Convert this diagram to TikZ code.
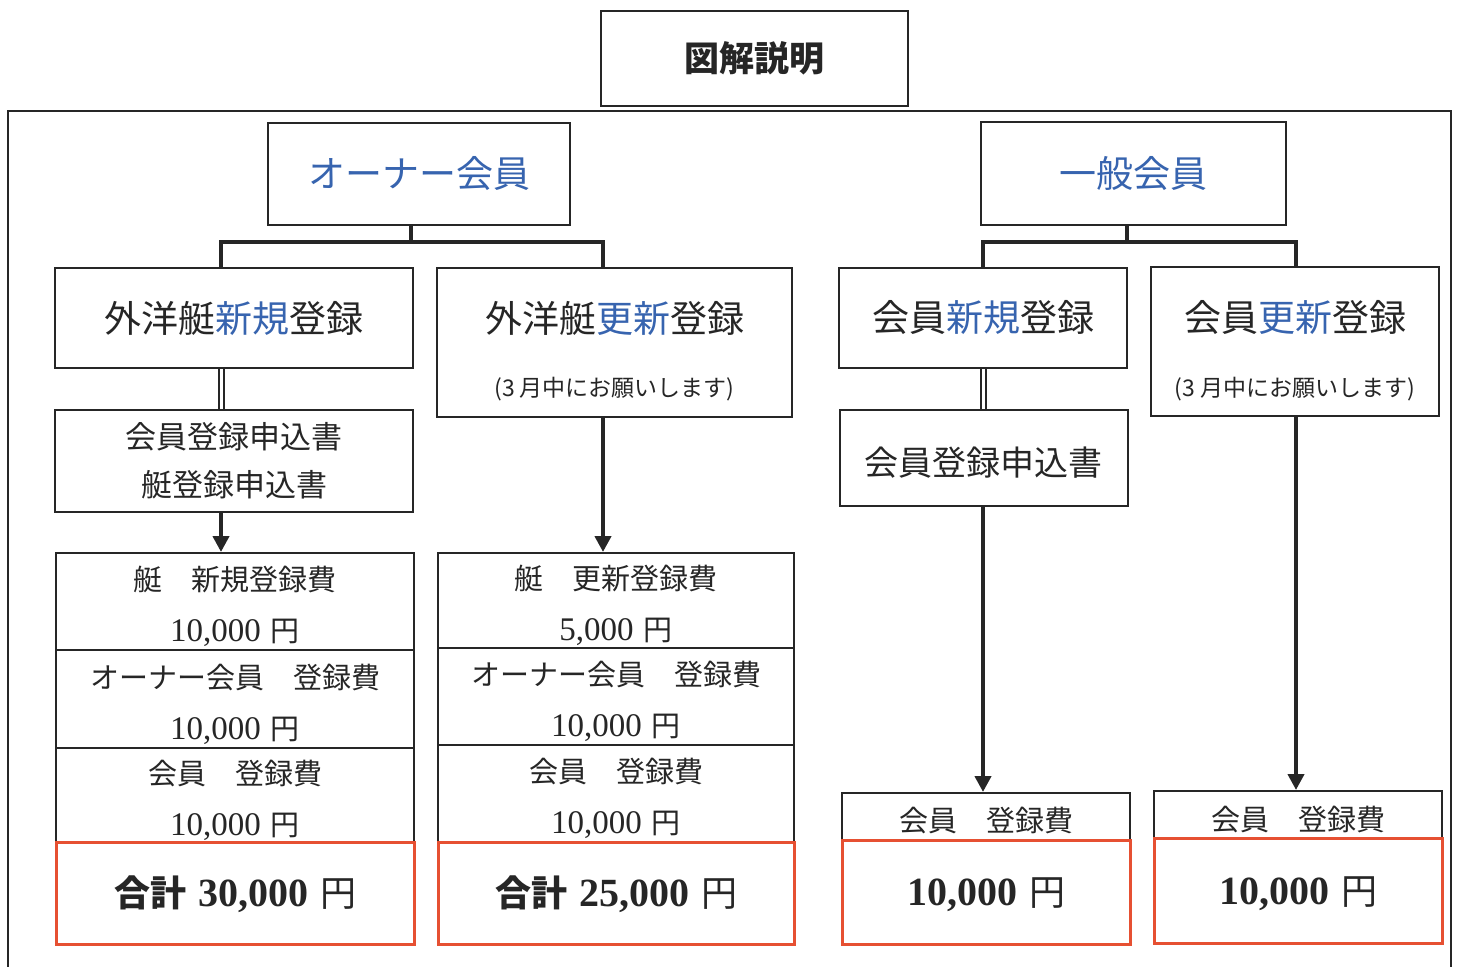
\documentclass[tikz,border=0pt]{standalone}
\usepackage{fontspec}
\setmainfont{Liberation Serif}
\newfontfamily\jp{Noto Sans CJK JP}
\usetikzlibrary{arrows.meta}
\definecolor{jblue}{RGB}{55,100,175}
\definecolor{ink}{RGB}{38,38,38}
\definecolor{tot}{RGB}{230,80,50}
\newcommand\nm[1]{{\rmfamily\fontsize{33}{51}\selectfont #1}}
\newcommand\bn[1]{{\rmfamily\bfseries\fontsize{40}{44}\selectfont #1}}
\newcommand\up{\rule{0pt}{35pt}}
\begin{document}
\begin{tikzpicture}[x=1pt,y=-1pt,
  box/.style={draw=ink,line width=2pt,inner sep=0pt,text=ink,align=center},
  big/.style={font=\jp\fontsize{37}{42}\selectfont},
  sub/.style={inner sep=0pt,text=ink,font=\jp\fontsize{23}{26}\selectfont},
  lbl/.style={inner sep=0pt,text=ink},
  fee/.style={box,font=\jp\fontsize{29}{51}\selectfont},
  total/.style={draw=tot,line width=3pt,inner sep=0pt,text=ink,font=\jp\fontsize{36}{40}\selectfont},
  conn/.style={draw=ink,line width=4.5pt},
  dbl/.style={draw=ink,line width=2pt,double=white,double distance=3pt},
  arr/.style={draw=ink,line width=4pt,-{Triangle[width=16pt,length=16pt]}},
  frame/.style={draw=ink,line width=2pt}]
\useasboundingbox[fill=white] (0,0) rectangle (1460,967);

% outer frame
\draw[frame] (8,967) -- (8,111) -- (1451,111) -- (1451,967);

% title
\node[box,minimum width=307pt,minimum height=95pt,font=\jp\bfseries\fontsize{35}{40}\selectfont] (title) at (754.5,58.5) {図解説明};

% top categories
\node[box,big,text=jblue,minimum width=302pt,minimum height=102pt] (owner) at (419,174) {オーナー会員};
\node[box,big,text=jblue,minimum width=305pt,minimum height=103pt] (general) at (1133.5,173.5) {一般会員};

% second row
\node[box,big,minimum width=358pt,minimum height=100pt] (A) at (234,318) {外洋艇\textcolor{jblue}{新規}登録};
\node[box,minimum width=355pt,minimum height=149pt] (B) at (614.5,342.5) {};
\node[lbl,big] (Bt) at (614.5,318) {外洋艇\textcolor{jblue}{更新}登録};
\node[sub] (Bs) at (614.5,389) {(3 月中にお願いします)};
\node[box,big,minimum width=288pt,minimum height=100pt] (C) at (983,318) {会員\textcolor{jblue}{新規}登録};
\node[box,minimum width=288pt,minimum height=149pt] (D) at (1295,341.5) {};
\node[lbl,big] (Dt) at (1295,318) {会員\textcolor{jblue}{更新}登録};
\node[sub] (Ds) at (1295,389) {(3 月中にお願いします)};

% application forms
\node[box,font=\jp\fontsize{31}{48}\selectfont,minimum width=358pt,minimum height=102pt] (A2) at (234,461) {会員登録申込書\\艇登録申込書};
\node[box,font=\jp\fontsize{34}{40}\selectfont,minimum width=288pt,minimum height=96pt] (C2) at (983.5,458) {\rule{0pt}{38pt}会員登録申込書};

% fee tables
\node[fee,minimum width=358pt,minimum height=97pt] (l1) at (235,601.5) {\up 艇　新規登録費\\\nm{10,000}\hspace{10pt}円};
\node[fee,minimum width=358pt,minimum height=98pt] (l2) at (235,699) {\up オーナー会員　登録費\\\nm{10,000}\hspace{10pt}円};
\node[fee,minimum width=358pt,minimum height=94pt] (l3) at (235,795) {\up 会員　登録費\\\nm{10,000}\hspace{10pt}円};
\node[fee,minimum width=356pt,minimum height=95pt] (m1) at (616,600.5) {\up 艇　更新登録費\\\nm{5,000}\hspace{10pt}円};
\node[fee,minimum width=356pt,minimum height=97pt] (m2) at (616,696.5) {\up オーナー会員　登録費\\\nm{10,000}\hspace{10pt}円};
\node[fee,minimum width=356pt,minimum height=97pt] (m3) at (616,793.5) {\up 会員　登録費\\\nm{10,000}\hspace{10pt}円};
\node[fee,minimum width=288pt,minimum height=47pt] (c1) at (986,816.5) {\rule{0pt}{33pt}会員　登録費};
\node[fee,minimum width=288pt,minimum height=47pt] (d1) at (1298,814.5) {\rule{0pt}{35pt}会員　登録費};

% totals
\node[total,minimum width=358pt,minimum height=102pt] (lt) at (235,893) {\rule{0pt}{34pt}{\bfseries 合計}\hspace{12pt}\bn{30,000}\hspace{12pt}円};
\node[total,minimum width=356pt,minimum height=102pt] (mt) at (616,893) {\rule{0pt}{34pt}{\bfseries 合計}\hspace{12pt}\bn{25,000}\hspace{12pt}円};
\node[total,minimum width=288pt,minimum height=104pt] (ct) at (986,892) {\rule{0pt}{34pt}\bn{10,000}\hspace{12pt}円};
\node[total,minimum width=288pt,minimum height=105pt] (dt) at (1298,890.5) {\rule{0pt}{34pt}\bn{10,000}\hspace{12pt}円};

% connectors left
\coordinate (ob) at (411,242);
\coordinate (aL) at (221,242);
\coordinate (bR) at (603,242);
\draw[conn] (owner.south -| ob) -- (ob);
\draw[conn] (A.north -| aL) -- (aL) -- (bR) -- (B.north -| bR);
\draw[dbl] (A.south -| aL) -- (A2.north -| aL);
\draw[arr] (A2.south -| aL) -- (l1.north -| aL);
\draw[arr] (B.south -| bR) -- (m1.north -| bR);

% connectors right
\coordinate (gb) at (1127,242);
\coordinate (cL) at (983,242);
\coordinate (dR) at (1296,242);
\draw[conn] (general.south -| gb) -- (gb);
\draw[conn] (C.north -| cL) -- (cL) -- (dR) -- (D.north -| dR);
\draw[dbl] (C.south -| cL) -- (C2.north -| cL);
\draw[arr] (C2.south -| cL) -- (c1.north -| cL);
\draw[arr] (D.south -| dR) -- (d1.north -| dR);
\end{tikzpicture}
\end{document}
